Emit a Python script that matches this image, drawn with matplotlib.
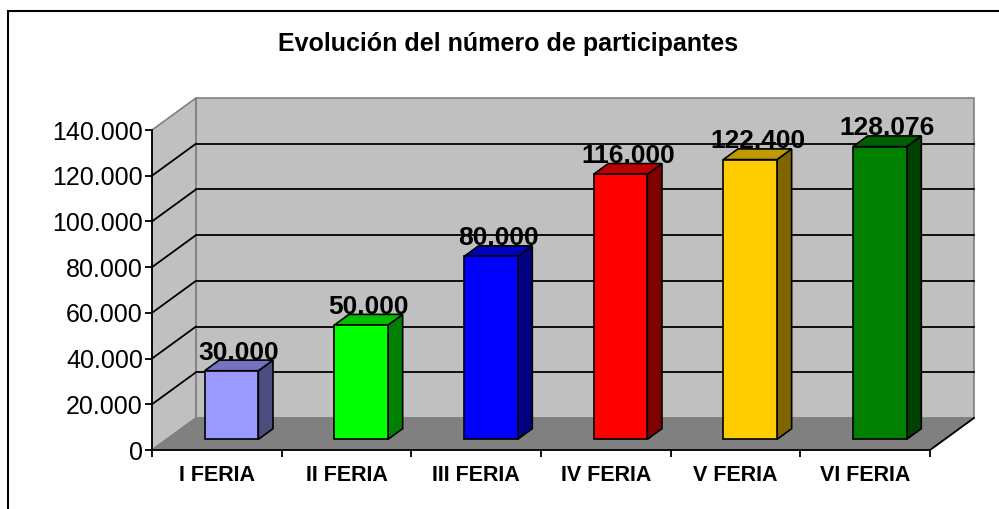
import numpy as np
import matplotlib.pyplot as plt
from matplotlib.patches import Polygon, Rectangle
from matplotlib.ticker import FuncFormatter

plt.rcParams['font.family'] = ['Liberation Sans', 'DejaVu Sans']

categorias = ["I FERIA", "II FERIA", "III FERIA", "IV FERIA", "V FERIA", "VI FERIA"]
participantes = [30000, 50000, 80000, 116000, 122400, 128076]
colores = ["#9999FF", "#00FF00", "#0000FF", "#FF0000", "#FFCC00", "#008000"]
titulo = "Evolución del número de participantes"
y_ticks = [0, 20000, 40000, 60000, 80000, 100000, 120000, 140000]

ymax = 140000
n = len(categorias)
DX = 0.339      # depth shift in category units
DY = 14000      # depth shift in value units
d0, d1 = 1/3, 2/3
ancho = 0.414


def miles(v, pos=None):
    return f"{int(v):,}".replace(",", ".")


def sombra(c, f):
    r, g, b = plt.matplotlib.colors.to_rgb(c)
    return (r * f, g * f, b * f)


fig = plt.figure(figsize=(9.99, 5.09), dpi=100)
ax = fig.add_axes([152/999, 59/509, 778/999, 320/509])
ax.set_xlim(0, n)
ax.set_ylim(0, ymax)

# walls and floor
ax.add_patch(Polygon([(DX, DY), (n + DX, DY), (n + DX, ymax + DY), (DX, ymax + DY)],
                     closed=True, fc="#C0C0C0", ec="#808080", lw=1.2, clip_on=False, zorder=1))
ax.add_patch(Polygon([(0, 0), (DX, DY), (DX, ymax + DY), (0, ymax)],
                     closed=True, fc="#C0C0C0", ec="#808080", lw=1.2, clip_on=False, zorder=1))
ax.add_patch(Polygon([(0, 0), (n, 0), (n + DX, DY), (DX, DY)],
                     closed=True, fc="#808080", ec="#808080", lw=1.0, clip_on=False, zorder=1))
ax.plot([n, n + DX], [0, DY], color="black", lw=1.3, clip_on=False, zorder=2)

for v in y_ticks[1:-1]:
    ax.plot([DX, n + DX], [v + DY, v + DY], color="black", lw=1.3, clip_on=False, zorder=2)
    ax.plot([0, DX], [v, v + DY], color="black", lw=1.3, clip_on=False, zorder=2)

# bars
for i, (v, c) in enumerate(zip(participantes, colores)):
    x0 = i + 0.5 - ancho / 2
    x1 = x0 + ancho
    front = [(x0 + d0*DX, d0*DY), (x1 + d0*DX, d0*DY), (x1 + d0*DX, v + d0*DY), (x0 + d0*DX, v + d0*DY)]
    lado = [(x1 + d0*DX, d0*DY), (x1 + d1*DX, d1*DY), (x1 + d1*DX, v + d1*DY), (x1 + d0*DX, v + d0*DY)]
    tapa = [(x0 + d0*DX, v + d0*DY), (x1 + d0*DX, v + d0*DY), (x1 + d1*DX, v + d1*DY), (x0 + d1*DX, v + d1*DY)]
    ax.add_patch(Polygon(lado, closed=True, fc=sombra(c, 0.5), ec="black", lw=1.2, clip_on=False, zorder=3))
    ax.add_patch(Polygon(tapa, closed=True, fc=sombra(c, 0.75), ec="black", lw=1.2, clip_on=False, zorder=3))
    ax.add_patch(Polygon(front, closed=True, fc=c, ec="black", lw=1.2, clip_on=False, zorder=3))
    ax.text(i + 0.5 + 0.5*DX, v + 0.66*DY + 300, miles(v), ha="center", va="baseline",
            fontsize=19, fontweight="bold", zorder=4, clip_on=False)

# axes
for s in ["top", "right"]:
    ax.spines[s].set_visible(False)
for s in ["left", "bottom"]:
    ax.spines[s].set_linewidth(1.3)
    ax.spines[s].set_zorder(5)
ax.set_facecolor("none")
ax.set_yticks(y_ticks)
ax.yaxis.set_major_formatter(FuncFormatter(miles))
ax.tick_params(axis="y", length=5, width=1.3, pad=1.5, labelsize=18)
ax.set_xticks(np.arange(n + 1))
ax.set_xticklabels([])
ax.set_xticks(np.arange(n) + 0.5, minor=True)
ax.set_xticklabels(categorias, minor=True, fontsize=15.5, fontweight="bold")
ax.tick_params(axis="x", which="major", length=5, width=1.3)
ax.tick_params(axis="x", which="minor", length=0, pad=11)

fig.text(508/999, 1 - 44/509, titulo, ha="center", va="center", fontsize=18, fontweight="bold")
fig.patches.append(Rectangle((8/999, -0.1), 1.2, 1.1 - 11/509, transform=fig.transFigure,
                             fill=False, ec="black", lw=1.5))

fig.savefig("out.png", dpi=100)
